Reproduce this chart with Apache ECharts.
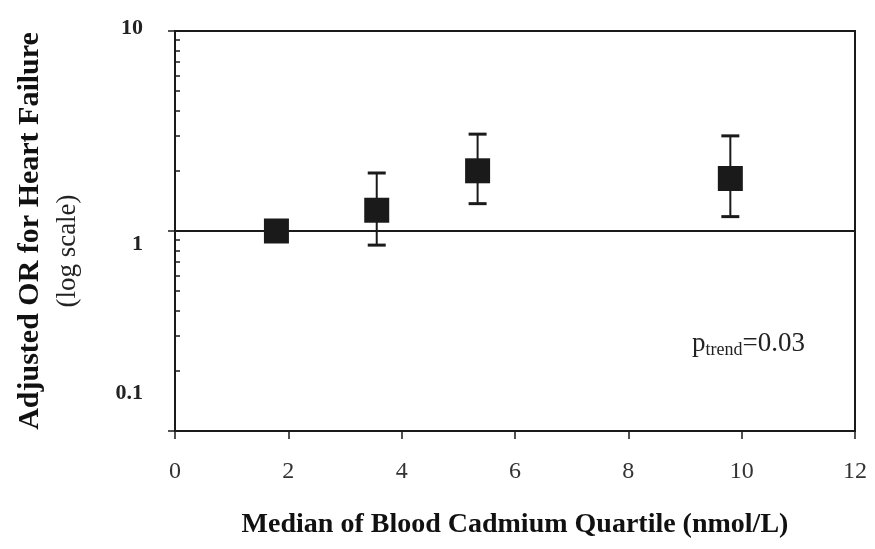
<!DOCTYPE html>
<html>
<head>
<meta charset="utf-8">
<script src="https://cdn.jsdelivr.net/npm/echarts@6/dist/echarts.min.js"></script>
<style>
  html, body { margin: 0; padding: 0; background: #fff; }
  #chart { width: 875px; height: 549px; }
</style>
</head>
<body>
<div id="chart"></div>
<script>
  // quartile medians (nmol/L) and adjusted odds ratios
  var xMedians = [1.79, 3.56, 5.34, 9.8];
  var orValues = [1.0, 1.27, 2.0, 1.83];
  var ciLower = [null, 0.85, 1.37, 1.18];
  var ciUpper = [null, 1.95, 3.05, 2.99];
  var xTicks = [0, 2, 4, 6, 8, 10, 12];
  var yTickLabels = [0.1, 1, 10];
  var minorTicks = [0.2, 0.3, 0.4, 0.5, 0.6, 0.7, 0.8, 0.9, 2, 3, 4, 5, 6, 7, 8, 9];

  var ink = "#1a1a1a";
  var serif = "Liberation Serif";

  var points = xMedians.map(function (x, i) {
    return [x, orValues[i]];
  });
  var bars = [];
  for (var i = 0; i < xMedians.length; i++) {
    if (ciLower[i] != null) bars.push([xMedians[i], ciLower[i], ciUpper[i]]);
  }

  function renderErr(params, api) {
    var x = api.value(0);
    var top = api.coord([x, api.value(2)]);
    var bot = api.coord([x, api.value(1)]);
    var w = 9;
    var st = { stroke: ink, lineWidth: 2 };
    var cap = { stroke: ink, lineWidth: 3 };
    return {
      type: "group",
      children: [
        { type: "line", shape: { x1: top[0], y1: top[1], x2: bot[0], y2: bot[1] }, style: st },
        { type: "line", shape: { x1: top[0] - w, y1: top[1], x2: top[0] + w, y2: top[1] }, style: cap },
        { type: "line", shape: { x1: bot[0] - w, y1: bot[1], x2: bot[0] + w, y2: bot[1] }, style: cap },
      ],
    };
  }

  var myChart = echarts.init(document.getElementById("chart"));
  myChart.setOption({
    animation: false,
    backgroundColor: "#fff",
    grid: {
      left: 175,
      right: 20,
      top: 31,
      bottom: 118,
      show: true,
      borderColor: ink,
      borderWidth: 2,
    },
    xAxis: {
      type: "value",
      min: xTicks[0],
      max: xTicks[xTicks.length - 1],
      interval: 2,
      splitLine: { show: false },
      axisLine: { onZero: false, lineStyle: { color: ink, width: 2 } },
      axisTick: { length: 8, lineStyle: { color: ink, width: 1.5 } },
      axisLabel: {
        margin: 29,
        color: "#333",
        fontFamily: serif,
        fontSize: 24,
      },
      name: "Median of Blood Cadmium Quartile (nmol/L)",
      nameLocation: "middle",
      nameGap: 80,
      nameTextStyle: {
        color: "#111",
        fontFamily: serif,
        fontWeight: "bold",
        fontSize: 28,
      },
    },
    yAxis: [
      {
        type: "log",
        logBase: 10,
        min: yTickLabels[0],
        max: yTickLabels[yTickLabels.length - 1],
        splitLine: { show: false },
        axisLine: { show: true, lineStyle: { color: ink, width: 2 } },
        axisTick: { length: 7, lineStyle: { color: ink, width: 1.5 } },
        axisLabel: {
          margin: 32,
          formatter: function (v) {
            if (v === 0.1) return "{lo|0.1}";
            if (v === 10) return "{hi|10}";
            return "{n|" + v + "}";
          },
          rich: {
            n: { color: "#222", fontFamily: serif, fontWeight: "bold", fontSize: 22, padding: [26, 0, 0, 0] },
            hi: { color: "#222", fontFamily: serif, fontWeight: "bold", fontSize: 22, padding: [0, 0, 6, 0] },
            lo: { color: "#222", fontFamily: serif, fontWeight: "bold", fontSize: 22, padding: [0, 0, 76, 0] },
          },
        },
        name: "{a|Adjusted OR for Heart Failure}\n{b|(log scale)}",
        nameLocation: "middle",
        nameRotate: 90,
        nameGap: 89,
        nameTextStyle: {
          rich: {
            a: { color: "#111", fontFamily: serif, fontWeight: "bold", fontSize: 30, lineHeight: 37 },
            b: { color: "#222", fontFamily: serif, fontSize: 27, lineHeight: 37, padding: [0, 40, 0, 0] },
          },
        },
      },
      {
        // minor ticks of the log scale, drawn inside
        type: "value",
        min: -1,
        max: 1,
        position: "left",
        axisLine: { show: false },
        splitLine: { show: false },
        axisLabel: { show: false },
        axisTick: {
          inside: true,
          length: 5,
          lineStyle: { color: ink, width: 1.5 },
          customValues: minorTicks.map(function (v) { return Math.log10(v); }),
        },
      },
    ],
    graphic: [
      {
        type: "text",
        left: 692,
        top: 330,
        style: {
          text: "{p|p}{s|trend}{n|=0.03}",
          rich: {
            p: { fontFamily: serif, fontSize: 27, fill: "#222" },
            s: { fontFamily: serif, fontSize: 18, fill: "#222", padding: [14, 0, 0, 0] },
            n: { fontFamily: serif, fontSize: 27, fill: "#222" },
          },
        },
      },
    ],
    series: [
      {
        type: "custom",
        renderItem: renderErr,
        data: bars,
        z: 2,
      },
      {
        type: "scatter",
        symbol: "rect",
        symbolSize: 25,
        itemStyle: { color: ink, opacity: 1 },
        data: points,
        z: 3,
        markLine: {
          silent: true,
          symbol: "none",
          label: { show: false },
          lineStyle: { color: ink, width: 2, type: "solid" },
          data: [{ yAxis: 1 }],
        },
      },
    ],
  });
  window.addEventListener("resize", function () {
    myChart.resize();
  });
</script>
</body>
</html>
